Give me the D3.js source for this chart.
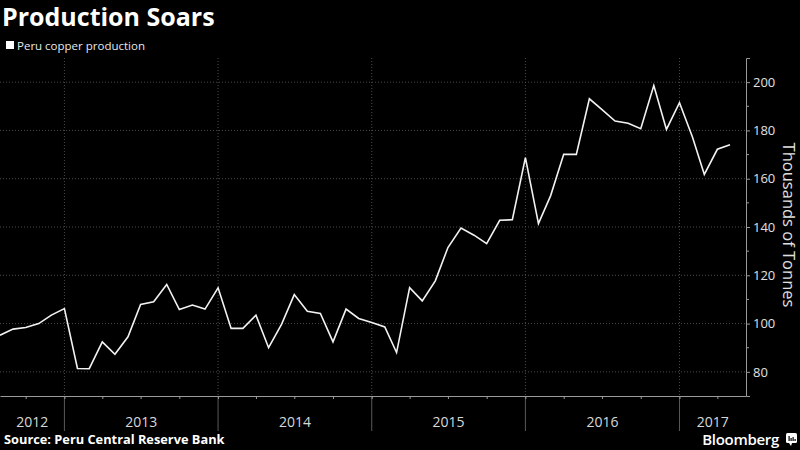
<!DOCTYPE html>
<html>
<head>
<meta charset="utf-8">
<script src="https://cdn.jsdelivr.net/npm/d3@7"></script>
<style>
  html, body { margin: 0; padding: 0; background: #000; }
  svg { display: block; }
</style>
</head>
<body>
<svg id="chart" width="800" height="450"></svg>
<script>
// monthly Peru copper production, thousands of tonnes (Aug 2012 - May 2017)
const months = [
  "2012-08", "2012-09", "2012-10", "2012-11", "2012-12",
  "2013-01", "2013-02", "2013-03", "2013-04", "2013-05", "2013-06",
  "2013-07", "2013-08", "2013-09", "2013-10", "2013-11", "2013-12",
  "2014-01", "2014-02", "2014-03", "2014-04", "2014-05", "2014-06",
  "2014-07", "2014-08", "2014-09", "2014-10", "2014-11", "2014-12",
  "2015-01", "2015-02", "2015-03", "2015-04", "2015-05", "2015-06",
  "2015-07", "2015-08", "2015-09", "2015-10", "2015-11", "2015-12",
  "2016-01", "2016-02", "2016-03", "2016-04", "2016-05", "2016-06",
  "2016-07", "2016-08", "2016-09", "2016-10", "2016-11", "2016-12",
  "2017-01", "2017-02", "2017-03", "2017-04", "2017-05"
];
const production = [
  95.2, 97.7, 98.4, 100.0, 103.5,
  106.2, 81.4, 81.3, 92.4, 87.3, 94.5, 107.9, 109.0, 116.2, 105.8, 107.7, 106.0,
  114.8, 98.0, 98.0, 103.5, 90.0, 99.8, 112.0, 105.1, 104.2, 92.4, 106.0, 102.1,
  100.4, 98.6, 88.0, 114.9, 109.4, 117.7, 131.5, 139.6, 136.6, 133.1, 142.8, 143.0,
  168.7, 141.4, 153.0, 170.1, 170.1, 193.1, 188.6, 183.9, 183.0, 180.7, 198.6, 180.4,
  191.5, 177.2, 161.8, 172.2, 174.1
];
const years = [2012, 2013, 2014, 2015, 2016, 2017];
const yTicks = [80, 100, 120, 140, 160, 180, 200];
const yMinorTicks = [90, 110, 130, 150, 170, 190];

const svg = d3.select("#chart");
const width = 800;
const plot = { left: 0, right: 746, top: 58, bottom: 396 };
const font = "'Open Sans', 'DejaVu Sans', sans-serif";
const gridColor = "#4a4a4a";
const axisColor = "#9a9a9a";

const parse = d3.timeParse("%Y-%m");
const data = months.map((m, i) => ({ date: parse(m), value: production[i] }));

const x = d3.scaleTime()
  .domain([new Date(2012, 7, 1), new Date(2017, 5, 8)])
  .range([plot.left, plot.right]);

const y = d3.scaleLinear()
  .domain([70, 210])
  .range([plot.bottom, plot.top]);

svg.append("rect")
  .attr("width", width)
  .attr("height", 450)
  .attr("fill", "#000");

// horizontal dotted grid
svg.append("g")
  .selectAll("line")
  .data(yTicks)
  .enter()
  .append("line")
  .attr("x1", plot.left)
  .attr("x2", plot.right)
  .attr("y1", d => y(d))
  .attr("y2", d => y(d))
  .attr("stroke", gridColor)
  .attr("stroke-dasharray", "1,2");

// year separators: dotted in plot, solid beneath the axis
const yearStarts = years.slice(1).map(yr => new Date(yr, 0, 1));
svg.append("g")
  .selectAll("line")
  .data(yearStarts)
  .enter()
  .append("line")
  .attr("x1", d => x(d))
  .attr("x2", d => x(d))
  .attr("y1", plot.top)
  .attr("y2", plot.bottom)
  .attr("stroke", gridColor)
  .attr("stroke-dasharray", "1,2");

svg.append("g")
  .selectAll("line")
  .data(yearStarts)
  .enter()
  .append("line")
  .attr("x1", d => x(d))
  .attr("x2", d => x(d))
  .attr("y1", plot.bottom)
  .attr("y2", 431)
  .attr("stroke", "#5a5a5a");

// x axis with quarter ticks
const quarters = d3.timeMonth.every(3).range(x.domain()[0], x.domain()[1]);
const xAxis = svg.append("g")
  .attr("transform", `translate(0,${plot.bottom})`)
  .call(d3.axisBottom(x).tickValues(quarters).tickSize(3).tickSizeOuter(0).tickFormat(""));
xAxis.select(".domain").attr("stroke", axisColor);
xAxis.selectAll(".tick line").attr("stroke", axisColor);

// year labels centred in each visible year span
svg.append("g")
  .selectAll("text")
  .data(years)
  .enter()
  .append("text")
  .attr("x", yr => {
    const a = Math.max(plot.left, x(new Date(yr, 0, 1)));
    const b = Math.min(plot.right, x(new Date(yr + 1, 0, 1)));
    return (a + b) / 2;
  })
  .attr("y", 427)
  .attr("text-anchor", "middle")
  .attr("fill", "#d8d8d8")
  .attr("font-family", font)
  .attr("font-size", "14px")
  .text(yr => yr);

// right y axis
const yAxis = svg.append("g")
  .attr("transform", `translate(${plot.right},0)`)
  .call(d3.axisRight(y).tickValues(yTicks).tickSize(4).tickSizeOuter(4).tickPadding(3));
yAxis.select(".domain").attr("stroke", axisColor);
yAxis.selectAll(".tick line").attr("stroke", axisColor);
yAxis.selectAll(".tick text")
  .attr("fill", "#e0e0e0")
  .attr("font-family", font)
  .attr("font-size", "13px");

svg.append("g")
  .attr("transform", `translate(${plot.right},0)`)
  .selectAll("line")
  .data(yMinorTicks)
  .enter()
  .append("line")
  .attr("x1", 0)
  .attr("x2", 3)
  .attr("y1", d => y(d))
  .attr("y2", d => y(d))
  .attr("stroke", axisColor);

svg.append("text")
  .attr("transform", `translate(783,${(plot.top + plot.bottom) / 2 - 2}) rotate(90)`)
  .attr("text-anchor", "middle")
  .attr("fill", "#e0e0e0")
  .attr("font-family", font)
  .attr("font-size", "16.5px")
  .text("Thousands of Tonnes");

// the series
const line = d3.line()
  .x(d => x(d.date))
  .y(d => y(d.value));

svg.append("path")
  .datum(data)
  .attr("fill", "none")
  .attr("stroke", "#f2f2f2")
  .attr("stroke-width", 1.6)
  .attr("stroke-linejoin", "miter")
  .attr("d", line);

// title and legend
svg.append("text")
  .attr("x", 2)
  .attr("y", 26)
  .attr("fill", "#fff")
  .attr("font-family", font)
  .attr("font-weight", "bold")
  .attr("font-size", "25px")
  .text("Production Soars");

svg.append("rect")
  .attr("x", 6)
  .attr("y", 41)
  .attr("width", 8)
  .attr("height", 8)
  .attr("fill", "#fff");

svg.append("text")
  .attr("x", 17)
  .attr("y", 50)
  .attr("fill", "#e8e8e8")
  .attr("font-family", font)
  .attr("font-size", "11.5px")
  .text("Peru copper production");

// footer
svg.append("text")
  .attr("x", 4)
  .attr("y", 444)
  .attr("fill", "#fff")
  .attr("font-family", font)
  .attr("font-weight", "bold")
  .attr("font-size", "12.8px")
  .text("Source: Peru Central Reserve Bank");

svg.append("text")
  .attr("x", 779)
  .attr("y", 445)
  .attr("text-anchor", "end")
  .attr("fill", "#fff")
  .attr("font-family", font)
  .attr("font-weight", 600)
  .attr("font-size", "15px")
  .attr("letter-spacing", "-0.3px")
  .text("Bloomberg");

const logo = svg.append("g").attr("transform", "translate(786,433)");
logo.append("rect")
  .attr("width", 11)
  .attr("height", 10)
  .attr("rx", 1.5)
  .attr("fill", "#fff");
logo.append("path")
  .attr("d", "M3,10 L5,13 L6,10 Z")
  .attr("fill", "#fff");
[[2.5, 5], [4.5, 3], [6.5, 4], [8.5, 2]].forEach(([bx, bh]) => {
  logo.append("rect")
    .attr("x", bx)
    .attr("y", 8 - bh)
    .attr("width", 1.2)
    .attr("height", bh)
    .attr("fill", "#000");
});
</script>
</body>
</html>
